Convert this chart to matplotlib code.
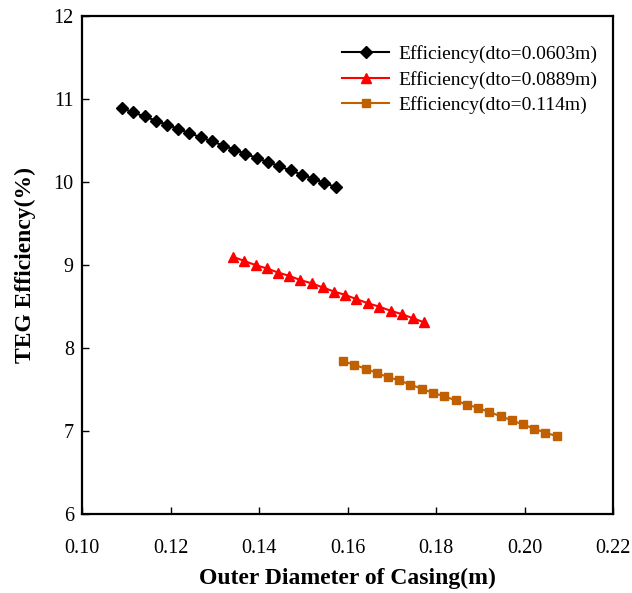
import matplotlib.pyplot as plt

plt.rcParams['font.family'] = ['Liberation Serif', 'DejaVu Serif']

# Outer diameter of casing (m)
x_0603 = [0.1090, 0.1115, 0.1141, 0.1166, 0.1192, 0.1217, 0.1242, 0.1268, 0.1293, 0.1319,
          0.1344, 0.1369, 0.1395, 0.1420, 0.1446, 0.1471, 0.1496, 0.1522, 0.1547, 0.1573]
x_0889 = [0.1341, 0.1366, 0.1392, 0.1417, 0.1443, 0.1468, 0.1493, 0.1519, 0.1544, 0.1570,
          0.1595, 0.1620, 0.1646, 0.1671, 0.1697, 0.1722, 0.1747, 0.1773]
x_114 = [0.1590, 0.1615, 0.1641, 0.1666, 0.1692, 0.1717, 0.1742, 0.1768, 0.1793, 0.1819,
         0.1844, 0.1869, 0.1895, 0.1920, 0.1946, 0.1971, 0.1996, 0.2022, 0.2047, 0.2073]

# TEG efficiency (%)
eff_0603 = [10.89, 10.84, 10.79, 10.74, 10.69, 10.64, 10.59, 10.54, 10.49, 10.44,
            10.39, 10.34, 10.29, 10.24, 10.19, 10.14, 10.09, 10.04, 9.99, 9.94]
eff_0889 = [9.10, 9.05, 9.00, 8.96, 8.91, 8.87, 8.82, 8.78, 8.73, 8.68,
            8.64, 8.59, 8.54, 8.50, 8.45, 8.41, 8.36, 8.31]
eff_114 = [7.84, 7.80, 7.75, 7.70, 7.65, 7.61, 7.56, 7.51, 7.46, 7.42,
           7.37, 7.32, 7.28, 7.23, 7.18, 7.13, 7.08, 7.03, 6.98, 6.94]

fig = plt.figure(figsize=(6.32, 5.93), dpi=100)
ax = fig.add_axes([0.130, 0.133, 0.840, 0.840])

ax.plot(x_0603, eff_0603, color='black', marker='D', markersize=6, linewidth=1.5,
        label='Efficiency(dto=0.0603m)')
ax.plot(x_0889, eff_0889, color='#ff0000', marker='^', markersize=7, linewidth=1.5,
        label='Efficiency(dto=0.0889m)')
ax.plot(x_114, eff_114, color='#c06000', marker='s', markersize=6, linewidth=1.5,
        label='Efficiency(dto=0.114m)')

ax.set_xlim(0.10, 0.22)
ax.set_ylim(6, 12)
ax.set_xticks([0.10, 0.12, 0.14, 0.16, 0.18, 0.20, 0.22])
ax.set_xticklabels(['0.10', '0.12', '0.14', '0.16', '0.18', '0.20', '0.22'])
ax.set_yticks([6, 7, 8, 9, 10, 11, 12])
ax.tick_params(direction='in', length=5, width=1, labelsize=14.5)
ax.tick_params(axis='x', pad=18)
ax.tick_params(axis='y', pad=6)
for sp in ax.spines.values():
    sp.set_linewidth(1.6)

ax.set_xlabel('Outer Diameter of Casing(m)', fontsize=17, fontweight='bold', labelpad=7)
ax.set_ylabel('TEG Efficiency(%)', fontsize=17, fontweight='bold', labelpad=13)

ax.legend(loc='upper right', bbox_to_anchor=(1.008, 0.98), frameon=False, fontsize=14,
          handlelength=2.4, handletextpad=0.5, labelspacing=0.38, borderaxespad=0.6)

fig.savefig('out.png', dpi=100)
